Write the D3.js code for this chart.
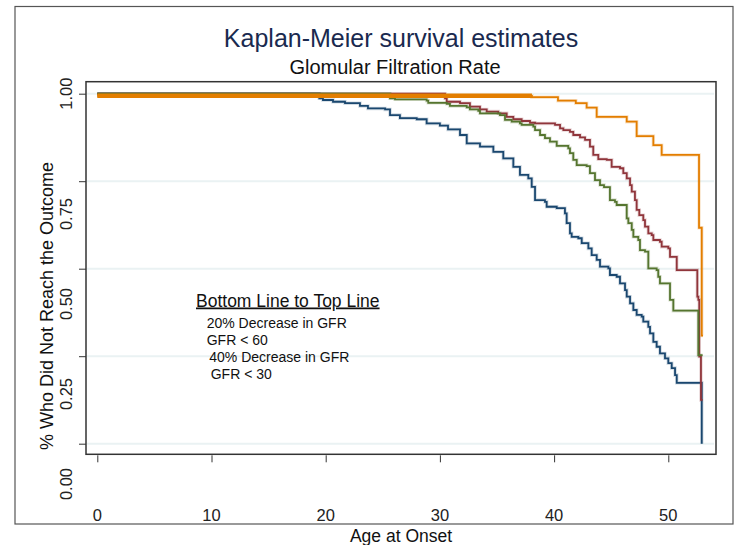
<!DOCTYPE html>
<html lang="en">
  <head>
    <meta charset="utf-8">
    <title>Kaplan-Meier survival estimates</title>
    <script src="https://d3js.org/d3.v7.min.js"></script>
    <style>
      html, body {
        margin: 0px;
        padding: 0px;
        background: #fff;
      }
      svg {
        font-family: "Liberation Sans", Arial, sans-serif;
        display: block;
      }
      .grid line {
        stroke: #eaf2f3;
        stroke-width: 2;
      }
      .km {
        fill: none;
        stroke-linejoin: miter;
      }
    </style>
  </head>
  <body>
    <div id="chart"></div>
    <script>
      // ages (x) and survival estimates (y) for each group
      var navySteps = [[0,1],[19.44,0.987],[19.76,0.982],[20.64,0.977],[21.69,0.973],[23.0,0.965],[23.7,0.958],[25.2,0.955],[25.63,0.939],[26.5,0.930],[27.97,0.927],[28.84,0.915],[30.0,0.909],[30.71,0.898],[31.76,0.882],[32.35,0.858],[33.51,0.849],[34.68,0.834],[35.55,0.815],[36.43,0.791],[37.01,0.768],[37.74,0.758],[38.04,0.734],[38.33,0.696],[39.2,0.691],[39.35,0.677],[40.23,0.673],[40.95,0.658],[41.1,0.630],[41.39,0.601],[41.54,0.591],[42.12,0.587],[42.42,0.573],[43.0,0.558],[43.29,0.539],[43.73,0.525],[44.02,0.506],[44.75,0.501],[44.89,0.482],[45.48,0.477],[45.77,0.458],[46.21,0.439],[46.36,0.420],[46.65,0.401],[46.94,0.382],[47.23,0.368],[47.67,0.363],[47.81,0.349],[48.25,0.334],[48.4,0.315],[48.69,0.291],[48.98,0.277],[49.27,0.258],[49.71,0.244],[50.0,0.230],[50.3,0.216],[50.59,0.196],[50.74,0.174],[52.93,0]];
      var maroonSteps = [[0,1],[30.45,0.987],[30.6,0.977],[31.76,0.973],[32.63,0.963],[33.51,0.955],[34.1,0.949],[35.11,0.944],[35.85,0.934],[36.43,0.927],[37.16,0.922],[37.89,0.917],[38.33,0.915],[40.08,0.911],[40.52,0.901],[40.81,0.896],[41.39,0.891],[41.68,0.882],[42.27,0.875],[42.71,0.868],[43.14,0.849],[43.43,0.825],[43.87,0.813],[44.61,0.811],[45.04,0.791],[45.77,0.787],[46.06,0.773],[46.36,0.758],[46.65,0.739],[46.8,0.720],[47.08,0.696],[47.23,0.668],[47.46,0.653],[47.81,0.639],[47.96,0.620],[48.25,0.601],[48.55,0.596],[48.69,0.582],[49.27,0.577],[49.42,0.563],[50.0,0.558],[50.15,0.534],[50.74,0.496],[52.54,0.42],[52.63,0.411],[52.71,0.249],[52.86,0.125],[53.0,0.125]];
      var greenSteps = [[0,1],[25.63,0.987],[26.07,0.984],[28.84,0.98],[28.98,0.974],[30.6,0.971],[30.88,0.965],[32.35,0.961],[32.63,0.955],[33.36,0.951],[33.51,0.944],[35.26,0.939],[35.7,0.925],[36.29,0.92],[37.01,0.915],[37.16,0.911],[38.18,0.906],[38.33,0.896],[38.77,0.882],[39.2,0.873],[39.64,0.863],[40.23,0.851],[41.24,0.844],[41.39,0.830],[41.68,0.811],[41.98,0.796],[42.85,0.793],[43.14,0.773],[43.58,0.753],[44.02,0.739],[44.37,0.733],[44.89,0.696],[45.33,0.691],[45.48,0.682],[46.36,0.644],[46.5,0.630],[46.8,0.611],[46.94,0.591],[47.37,0.582],[47.52,0.553],[47.96,0.549],[48.25,0.501],[48.98,0.496],[49.12,0.477],[49.27,0.458],[50.15,0.411],[50.44,0.380],[52.63,0.253],[53.0,0.253]];
      var orangeSteps = [[0,0.994],[38.06,0.99],[40.34,0.98],[41.9,0.973],[42.85,0.96],[43.73,0.934],[46.36,0.92],[47.23,0.879],[48.69,0.853],[49.42,0.825],[52.69,0.617],[52.93,0.309],[53.04,0.309]];

      var xTicks = [0, 10, 20, 30, 40, 50];
      var yTicks = [1, 0.75, 0.5, 0.25, 0];
      var yTickLabels = ["1.00", "0.75", "0.50", "0.25", "0.00"];
      var legendTitle = "Bottom Line to Top Line";
      var legendLines = ["20% Decrease in GFR", "GFR < 60", "40% Decrease in GFR", "GFR < 30"];

      var width = 738, height = 545;

      var svg = d3.select("#chart").append("svg")
        .attr("width", width)
        .attr("height", height);

      // outer graph border
      svg.append("rect")
        .attr("x", 15).attr("y", 6.5)
        .attr("width", 718).attr("height", 517.5)
        .attr("fill", "#fff")
        .attr("stroke", "#555")
        .attr("stroke-width", 1.2);

      var x = d3.scaleLinear().domain([0, 50]).range([97.3, 668.3]);
      var y = d3.scaleLinear().domain([0, 1]).range([443.7, 93.7]);
      // the printed y labels sit lower than their ticks in the original
      var yLabel = d3.scaleLinear().domain([0, 0.75]).range([484, 214]);

      var plotL = 86, plotR = 716, plotT = 81.7, plotB = 454.3;

      // grid
      svg.append("g")
        .attr("class", "grid")
        .selectAll("line")
        .data(yTicks)
        .enter().append("line")
          .attr("x1", plotL + 1).attr("x2", plotR - 2)
          .attr("y1", function(d) { return y(d); })
          .attr("y2", function(d) { return y(d); });

      // y ticks (no labels from the axis, they are placed below)
      svg.append("g")
        .attr("transform", "translate(" + plotL + ",0)")
        .call(d3.axisLeft(y).tickValues(yTicks).tickSize(7).tickFormat(""))
        .call(function(g) {
          g.select(".domain").remove();
          g.selectAll("line").attr("stroke", "#333");
        });

      svg.append("g")
        .selectAll("text")
        .data(yTicks)
        .enter().append("text")
          .attr("transform", function(d) {
            var cy = d === 1 ? y(d) : yLabel(d);
            return "translate(72," + cy + ") rotate(-90)";
          })
          .attr("text-anchor", "middle")
          .attr("font-size", 16.5)
          .attr("fill", "#222")
          .text(function(d, i) { return yTickLabels[i]; });

      // x axis hanging under the plot frame
      svg.append("g")
        .attr("transform", "translate(0," + (plotB + 1) + ")")
        .call(d3.axisBottom(x).tickValues(xTicks).tickSize(7).tickFormat(""))
        .call(function(g) {
          g.select(".domain").remove();
          g.selectAll("line").attr("stroke", "#333");
        });

      svg.append("g")
        .selectAll("text")
        .data(xTicks)
        .enter().append("text")
          .attr("x", function(d) { return x(d); })
          .attr("y", 521)
          .attr("text-anchor", "middle")
          .attr("font-size", 16.5)
          .attr("fill", "#222")
          .text(function(d) { return d; });

      // curves
      var line = d3.line()
        .x(function(d) { return x(d[0]); })
        .y(function(d) { return y(d[1]); })
        .curve(d3.curveStepAfter);

      var series = [
        { data: navySteps, color: "#1a476f" },
        { data: maroonSteps, color: "#90353b" },
        { data: greenSteps, color: "#55752f" },
        { data: orangeSteps, color: "#e37e00" }
      ];

      var curves = svg.append("g");
      series.forEach(function(s) {
        curves.append("path")
          .attr("class", "km")
          .attr("d", line(s.data))
          .attr("stroke", s.color)
          .attr("stroke-opacity", 0.2)
          .attr("stroke-width", 3.5);
        curves.append("path")
          .attr("class", "km")
          .attr("d", line(s.data))
          .attr("stroke", s.color)
          .attr("stroke-width", 1.8);
      });

      // the first flat run of the top curve is drawn heavier in the original
      curves.append("path")
        .attr("class", "km")
        .attr("d", line([orangeSteps[0], [orangeSteps[1][0], orangeSteps[0][1]]]))
        .attr("stroke", "#e37e00")
        .attr("stroke-width", 4.5);

      // plot frame
      svg.append("rect")
        .attr("x", plotL).attr("y", plotT)
        .attr("width", plotR - plotL).attr("height", plotB - plotT)
        .attr("fill", "none")
        .attr("stroke", "#333")
        .attr("stroke-width", 1.5);

      // titles
      svg.append("text")
        .attr("x", 401).attr("y", 46.5)
        .attr("text-anchor", "middle")
        .attr("font-size", 25)
        .attr("fill", "#1a2a4f")
        .text("Kaplan-Meier survival estimates");

      svg.append("text")
        .attr("x", 395).attr("y", 74)
        .attr("text-anchor", "middle")
        .attr("font-size", 20)
        .attr("fill", "#111")
        .text("Glomular Filtration Rate");

      svg.append("text")
        .attr("x", 401).attr("y", 542)
        .attr("text-anchor", "middle")
        .attr("font-size", 17.5)
        .attr("fill", "#111")
        .text("Age at Onset");

      svg.append("text")
        .attr("transform", "translate(53,306) rotate(-90)")
        .attr("text-anchor", "middle")
        .attr("font-size", 18)
        .attr("fill", "#111")
        .text("% Who Did Not Reach the Outcome");

      // note inside the plot
      svg.append("text")
        .attr("x", 196).attr("y", 306.5)
        .attr("font-size", 17.5)
        .attr("fill", "#111")
        .attr("text-decoration", "underline")
        .text(legendTitle);

      var legendX = [206.7, 206.7, 209.3, 210.7];
      svg.append("g")
        .selectAll("text")
        .data(legendLines)
        .enter().append("text")
          .attr("x", function(d, i) { return legendX[i]; })
          .attr("y", function(d, i) { return 328 + i * 17.1; })
          .attr("font-size", 14)
          .attr("fill", "#111")
          .text(function(d) { return d; });
    </script>
  </body>
</html>
